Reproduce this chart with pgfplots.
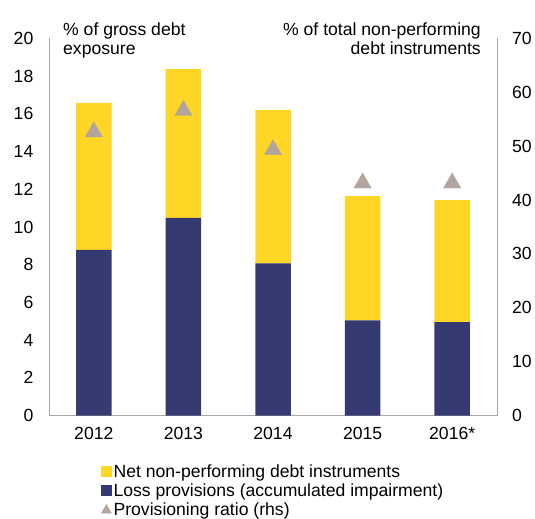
\documentclass[border=0pt]{standalone}
\usepackage{fontspec}
\setmainfont{Liberation Sans}
\usepackage{pgfplots}
\pgfplotsset{compat=1.18}
\definecolor{ylw}{HTML}{FFD625}
\definecolor{navy}{HTML}{353A70}
\definecolor{tri}{HTML}{B3A59D}
\definecolor{axgrey}{HTML}{A6A6A6}
\newcommand{\cf}{\fontsize{17.6bp}{19.5bp}\selectfont}
\begin{document}
\begin{tikzpicture}
\useasboundingbox (-49bp,-103.5bp) rectangle (486bp,415.5bp);
\begin{axis}[
  at={(0,0)}, anchor=south west,
  scale only axis, width=448bp, height=377bp,
  xmin=-0.5, xmax=4.5, ymin=0, ymax=20,
  ybar stacked, bar width=35.5bp,
  axis x line*=bottom, axis y line*=left,
  axis line style={axgrey, line width=1bp},
  xtick={0,1,2,3,4},
  xticklabels={2012,2013,2014,2015,2016*},
  ytick={0,2,...,20},
  major tick length=0pt,
  tick style={draw=none},
  /pgf/number format/assume math mode=true,
  ticklabel style={font=\cf},
  yticklabel style={inner sep=0pt, xshift=-15.5bp},
  xticklabel style={inner sep=0pt, yshift=-11.5bp},
  legend style={at={(0.1161,-0.1295)}, anchor=north west, draw=none, fill=none,
    inner sep=0pt, font=\cf, column sep=2bp, row sep=6.4bp,
    nodes={inner sep=0pt, text height=12.6bp, text depth=0pt}},
  legend cell align=left,
]
\addplot[fill=navy, draw=none, forget plot] coordinates {(0,8.78) (1,10.48) (2,8.07) (3,5.05) (4,4.96)};
\addplot[fill=ylw, draw=none, forget plot] coordinates {(0,7.80) (1,7.89) (2,8.15) (3,6.59) (4,6.46)};
\addlegendimage{legend image code/.code={\fill[ylw] (0bp,-5bp) rectangle (10bp,5bp);}}
\addlegendentry{Net non-performing debt instruments}
\addlegendimage{legend image code/.code={\fill[navy] (0bp,-5bp) rectangle (10bp,5bp);}}
\addlegendentry{Loss provisions (accumulated impairment)}
\addlegendimage{legend image code/.code={\fill[tri] (0bp,-4.3bp) -- (10bp,-4.3bp) -- (5bp,4.3bp) -- cycle;}}
\addlegendentry{Provisioning ratio (rhs)}
\end{axis}
\begin{axis}[
  at={(0,0)}, anchor=south west,
  scale only axis, width=448bp, height=377bp,
  xmin=-0.5, xmax=4.5, ymin=0, ymax=70,
  axis y line*=right, axis x line=none,
  axis line style={axgrey, line width=1bp},
  ytick={0,10,...,70},
  major tick length=0pt,
  tick style={draw=none},
  /pgf/number format/assume math mode=true,
  ticklabel style={font=\cf},
  yticklabel style={inner sep=0pt, xshift=15bp},
]
\addplot[only marks, mark=triangle*, mark size=10bp, color=tri,
  mark options={fill=tri, draw=none, yshift=-2.5bp}]
  coordinates {(0,53.12) (1,57.1) (2,49.82) (3,43.63) (4,43.63)};
\end{axis}
\node[font=\cf, inner sep=0pt, anchor=base west] at (14bp,379.5bp) {\% of gross debt};
\node[font=\cf, inner sep=0pt, anchor=base west] at (14bp,360.5bp) {exposure};
\node[font=\cf, inner sep=0pt, anchor=base east] at (432bp,379.5bp) {\% of total non-performing};
\node[font=\cf, inner sep=0pt, anchor=base east] at (432bp,360.5bp) {debt instruments};
\end{tikzpicture}
\end{document}
